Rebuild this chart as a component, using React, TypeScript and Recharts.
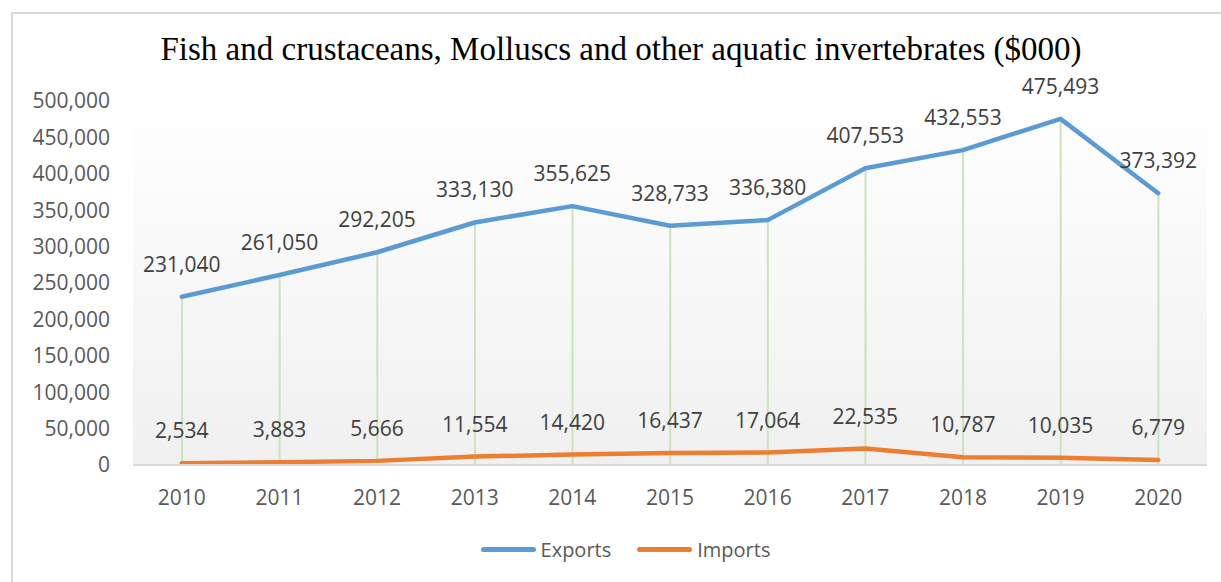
import { ComposedChart, Line, Bar, XAxis, YAxis, CartesianGrid, Legend, LabelList } from 'recharts';

const years = ['2010', '2011', '2012', '2013', '2014', '2015', '2016', '2017', '2018', '2019', '2020'];
const exportsValues = [231040, 261050, 292205, 333130, 355625, 328733, 336380, 407553, 432553, 475493, 373392];
const importsValues = [2534, 3883, 5666, 11554, 14420, 16437, 17064, 22535, 10787, 10035, 6779];
const yTicks = [0, 50000, 100000, 150000, 200000, 250000, 300000, 350000, 400000, 450000, 500000];

const data = years.map((year, i) => ({
  year,
  exports: exportsValues[i],
  imports: importsValues[i],
}));

const fmt = (v: number) => v.toLocaleString('en-US');
const font = '"Open Sans", sans-serif';

const legendItems = [
  { name: 'Exports', color: '#5b9bd5' },
  { name: 'Imports', color: '#ed7d31' },
];

function LegendContent() {
  return (
    <div style={{ display: 'flex', justifyContent: 'center', alignItems: 'center', fontFamily: font, fontSize: 20, color: '#595959', height: 30, paddingLeft: 44 }}>
      {legendItems.map((item, i) => (
        <div key={item.name} style={{ display: 'flex', alignItems: 'center', marginLeft: i ? 26 : 0 }}>
          <span style={{ display: 'inline-block', width: 55, height: 5, borderRadius: 3, background: item.color, marginRight: 5 }} />
          <span>{item.name}</span>
        </div>
      ))}
    </div>
  );
}

export default function App() {
  return (
    <div style={{ position: 'absolute', left: 0, top: 0, width: 1221, height: 582, background: '#fff', overflow: 'hidden' }}>
      <div style={{ position: 'absolute', left: 11, top: 12, width: 1240, height: 600, border: '2px solid #d9d9d9', boxSizing: 'border-box' }} />
      <div style={{ position: 'absolute', left: 11, top: 31, width: 1220, textAlign: 'center', fontFamily: '"Liberation Serif", "Times New Roman", serif', fontSize: 33, color: '#000' }}>
        Fish and crustaceans, Molluscs and other aquatic invertebrates ($000)
      </div>
      <div style={{ position: 'absolute', left: 0, top: 0 }}>
        <ComposedChart width={1221} height={582} data={data} margin={{ top: 101, right: 14, left: 0, bottom: 18 }}>
          <defs>
            <linearGradient id="plotBg" x1="0" y1="0" x2="0" y2="1">
              <stop offset="0%" stopColor="#ffffff" />
              <stop offset="100%" stopColor="#f0f0f0" />
            </linearGradient>
          </defs>
          <CartesianGrid horizontal={false} vertical={false} fill="url(#plotBg)" />
          <XAxis
            dataKey="year"
            axisLine={{ stroke: '#d9d9d9', strokeWidth: 2 }}
            tickLine={false}
            tickSize={0}
            tickMargin={25}
            height={69}
            tick={{ fill: '#595959', fontSize: 21, fontFamily: font }}
          />
          <YAxis
            domain={[0, 500000]}
            ticks={yTicks}
            tickFormatter={fmt}
            axisLine={false}
            tickLine={false}
            tickSize={0}
            tickMargin={23}
            width={133}
            interval={0}
            tick={{ fill: '#595959', fontSize: 21, fontFamily: font }}
          />
          <Bar dataKey="exports" barSize={2} fill="#cde2bd" isAnimationActive={false} legendType="none" />
          <Line
            type="linear"
            dataKey="exports"
            name="Exports"
            stroke="#5b9bd5"
            strokeWidth={4.5}
            strokeLinecap="round"
            strokeLinejoin="round"
            dot={false}
            activeDot={false}
            isAnimationActive={false}
          >
            <LabelList dataKey="exports" position="top" offset={25} formatter={fmt} fill="#404040" fontSize={21} fontFamily={font} />
          </Line>
          <Line
            type="linear"
            dataKey="imports"
            name="Imports"
            stroke="#ed7d31"
            strokeWidth={4.5}
            strokeLinecap="round"
            strokeLinejoin="round"
            dot={false}
            activeDot={false}
            isAnimationActive={false}
          >
            <LabelList dataKey="imports" position="top" offset={25} formatter={fmt} fill="#404040" fontSize={21} fontFamily={font} />
          </Line>
          <Legend verticalAlign="bottom" content={<LegendContent />} />
        </ComposedChart>
      </div>
    </div>
  );
}
